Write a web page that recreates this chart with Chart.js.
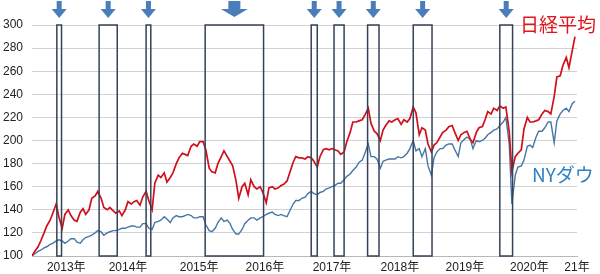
<!DOCTYPE html>
<html lang="ja">
<head>
<meta charset="utf-8">
<title>日経平均とNYダウ</title>
<script src="https://cdn.jsdelivr.net/npm/chart.js@4.4.0/dist/chart.umd.min.js"></script>
<style>
  html, body { margin: 0; padding: 0; background: #fff; }
  canvas { display: block; }
</style>
</head>
<body>
<canvas id="chart" width="600" height="274"></canvas>
<script>
// Dates as decimal years (start of 2013 = 100 for both indices)
const dates = [
  2013.00, 2013.04, 2013.09, 2013.13, 2013.18, 2013.22, 2013.27, 2013.31, 2013.36, 2013.40,
  2013.45, 2013.49, 2013.54, 2013.58, 2013.63, 2013.67, 2013.72, 2013.76, 2013.80, 2013.85,
  2013.89, 2013.94, 2013.98, 2014.03, 2014.07, 2014.12, 2014.16, 2014.21, 2014.25, 2014.30,
  2014.34, 2014.39, 2014.43, 2014.48, 2014.52, 2014.56, 2014.61, 2014.65, 2014.70, 2014.74,
  2014.79, 2014.83, 2014.88, 2014.92, 2014.97, 2015.01, 2015.06, 2015.10, 2015.15, 2015.19,
  2015.24, 2015.28, 2015.32, 2015.37, 2015.41, 2015.46, 2015.50, 2015.55, 2015.59, 2015.64,
  2015.68, 2015.73, 2015.77, 2015.82, 2015.86, 2015.91, 2015.95, 2015.99, 2016.04, 2016.08,
  2016.13, 2016.17, 2016.22, 2016.26, 2016.31, 2016.35, 2016.40, 2016.44, 2016.49, 2016.53,
  2016.58, 2016.62, 2016.67, 2016.71, 2016.75, 2016.80, 2016.84, 2016.89, 2016.93, 2016.98,
  2017.02, 2017.07, 2017.11, 2017.16, 2017.20, 2017.25, 2017.29, 2017.34, 2017.38, 2017.43,
  2017.47, 2017.51, 2017.56, 2017.60, 2017.65, 2017.69, 2017.74, 2017.78, 2017.83, 2017.87,
  2017.92, 2017.96, 2018.01, 2018.05, 2018.10, 2018.14, 2018.19, 2018.23, 2018.27, 2018.32,
  2018.36, 2018.41, 2018.45, 2018.50, 2018.54, 2018.59, 2018.63, 2018.68, 2018.72, 2018.77,
  2018.81, 2018.86, 2018.90, 2018.95, 2018.99, 2019.03, 2019.08, 2019.12, 2019.17, 2019.21,
  2019.26, 2019.30, 2019.35, 2019.39, 2019.44, 2019.48, 2019.53, 2019.57, 2019.62, 2019.66,
  2019.71, 2019.75, 2019.79, 2019.84, 2019.88, 2019.93, 2019.97, 2020.02, 2020.06, 2020.11,
  2020.15, 2020.20, 2020.24, 2020.29, 2020.33, 2020.38, 2020.42, 2020.46, 2020.51, 2020.55,
  2020.60, 2020.64, 2020.69, 2020.73, 2020.78, 2020.82, 2020.87, 2020.91, 2020.96, 2021.00,
  2021.05, 2021.09
];

const nikkei = [
  100, 104, 108, 113, 120, 126, 131, 137, 145, 134,
  124, 136, 140, 135, 131, 130, 138, 141, 136, 140,
  150, 152, 156, 150, 142, 140, 142, 139, 137, 139,
  135, 140, 147, 145, 147, 148, 144, 151, 156, 148,
  140, 163, 170, 168, 172, 164, 168, 172, 180, 185,
  189, 188, 187, 195, 197, 195, 199, 199, 192, 176,
  173, 172, 180, 186, 191, 186, 182, 178, 165, 150,
  160, 163, 153, 166, 160, 158, 160, 155, 146, 159,
  160, 158, 159, 161, 162, 165, 172, 181, 186, 185,
  185, 184, 186, 185, 182, 177, 186, 192, 193, 192,
  193, 192, 191, 188, 190, 199, 207, 216, 216, 217,
  218, 222, 228, 215, 208, 206, 200, 209, 213, 217,
  216, 218, 219, 214, 218, 216, 219, 229, 224, 205,
  211, 209, 197, 190, 196, 198, 203, 207, 209, 212,
  213, 207, 200, 205, 207, 208, 201, 198, 207, 211,
  212, 218, 225, 223, 228, 226, 230, 228, 229, 208,
  173, 186, 189, 192, 210, 220, 216, 216, 217, 218,
  223, 226, 225, 223, 238, 255, 256, 265, 272, 263,
  278, 290
];

const nyDow = [
  100, 102, 104, 105, 107, 108, 110, 111, 113, 114,
  113, 111, 113, 115, 115, 112, 111, 114, 116, 117,
  118, 120, 122, 121, 118, 120, 121, 122, 122, 123,
  124, 124, 125, 126, 126, 125, 125, 128, 128, 124,
  123, 129, 130, 131, 134, 132, 129, 133, 135, 134,
  134, 135, 136, 135, 133, 133, 134, 134, 127, 122,
  121, 124, 129, 133, 130, 131, 128, 123, 119, 119,
  123, 128, 131, 133, 133, 131, 133, 134, 136, 137,
  138, 136, 135, 136, 135, 134, 139, 145, 148, 148,
  150, 151, 154, 156, 154, 153, 155, 156, 158, 159,
  160, 161, 163, 163, 166, 169, 171, 174, 177, 181,
  183, 189, 197, 186, 186, 184, 176, 182, 183, 184,
  184, 184, 186, 185, 186, 189, 193, 200, 191, 193,
  186, 193, 178, 170, 185, 190, 193, 193, 196, 197,
  197, 192, 186, 198, 201, 203, 201, 193, 200, 199,
  200, 202, 205, 207, 209, 210, 213, 216, 220, 197,
  145, 170, 177, 178, 183, 195, 196, 194, 203, 208,
  208, 211, 216, 216, 198, 217, 223, 226, 228, 225,
  232, 234
];

// Year labels along the bottom (hand placed in the original, roughly mid-year)
const tickYears = [2013.51, 2014.43, 2015.49, 2016.47, 2017.47, 2018.48, 2019.45, 2020.41, 2021.12];
const tickLabels = ['2013年', '2014年', '2015年', '2016年', '2017年', '2018年', '2019年', '2020年', '21年'];

// Highlighted periods (boxes with arrows)
const eventStart = [2013.37, 2014.00, 2014.70, 2015.58, 2017.16, 2017.50, 2018.00, 2018.68, 2019.97];
const eventEnd   = [2013.44, 2014.27, 2014.77, 2016.45, 2017.25, 2017.65, 2018.17, 2018.96, 2020.16];

const xMin = 2013.0;
const xMax = 2021.12;

const FONT = "'Liberation Sans', 'Noto Sans CJK JP', sans-serif";
const JP_FONT = "'Noto Sans CJK JP', sans-serif";

// Boxes + arrows drawn on top of the lines
const eventPlugin = {
    id: 'events',
    afterDatasetsDraw(chart) {
        const ctx = chart.ctx;
        const xs = chart.scales.x;
        const area = chart.chartArea;
        ctx.save();
        eventStart.forEach((s, i) => {
            const x1 = xs.getPixelForValue(s);
            const x2 = xs.getPixelForValue(eventEnd[i]);
            ctx.strokeStyle = '#34425a';
            ctx.lineWidth = 1.5;
            ctx.strokeRect(x1, area.top, x2 - x1, area.bottom - area.top);

            // arrow above the box
            const cx = (x1 + x2) / 2;
            const big = (x2 - x1) > 40;
            const shaftW = big ? 12 : 5;
            const headW = big ? 27 : 15;
            const top = 1;
            const headY = 9;
            const tip = big ? 17 : 18;
            ctx.fillStyle = '#4a7ebb';
            ctx.beginPath();
            ctx.moveTo(cx - shaftW / 2, top);
            ctx.lineTo(cx + shaftW / 2, top);
            ctx.lineTo(cx + shaftW / 2, headY);
            ctx.lineTo(cx + headW / 2, headY);
            ctx.lineTo(cx, tip);
            ctx.lineTo(cx - headW / 2, headY);
            ctx.lineTo(cx - shaftW / 2, headY);
            ctx.closePath();
            ctx.fill();
        });
        ctx.restore();
    },
    afterDraw(chart) {
        const ctx = chart.ctx;
        ctx.save();
        ctx.font = '19px ' + JP_FONT;
        ctx.textBaseline = 'alphabetic';
        ctx.fillStyle = '#e0161c';
        ctx.fillText('日経平均', 520, 32);
        ctx.fillStyle = '#2f82c4';
        ctx.fillText('NYダウ', 532, 182);
        ctx.restore();
    }
};

new Chart(document.getElementById('chart').getContext('2d'), {
    type: 'line',
    data: {
        datasets: [
            {
                label: '日経平均',
                data: dates.map((d, i) => ({ x: d, y: nikkei[i] })),
                borderColor: '#d0101a',
                borderWidth: 1.7,
                pointRadius: 0,
                tension: 0
            },
            {
                label: 'NYダウ',
                data: dates.map((d, i) => ({ x: d, y: nyDow[i] })),
                borderColor: '#4676a6',
                borderWidth: 1.4,
                pointRadius: 0,
                tension: 0
            }
        ]
    },
    options: {
        responsive: false,
        animation: false,
        devicePixelRatio: 1,
        layout: { padding: { left: 0, right: 23, top: 25, bottom: 0 } },
        plugins: {
            legend: { display: false },
            tooltip: { enabled: false }
        },
        scales: {
            x: {
                type: 'linear',
                min: xMin,
                max: xMax,
                afterFit: (scale) => { scale.height = 18; },
                afterBuildTicks: (scale) => {
                    scale.ticks = tickYears.map(v => ({ value: v }));
                },
                grid: { display: false, drawTicks: false },
                border: { display: true, color: '#b8b8b8', width: 1 },
                ticks: {
                    autoSkip: false,
                    maxRotation: 0,
                    minRotation: 0,
                    padding: 4,
                    color: '#222',
                    font: { family: FONT, size: 12 },
                    callback: (value, index) => tickLabels[index]
                }
            },
            y: {
                min: 100,
                max: 300,
                afterFit: (scale) => { scale.width = 32; },
                grid: { color: '#d2d2d2', lineWidth: 1, drawTicks: false },
                border: { display: false },
                ticks: {
                    stepSize: 20,
                    padding: 9,
                    color: '#222',
                    font: { family: FONT, size: 12 }
                }
            }
        }
    },
    plugins: [eventPlugin]
});
</script>
</body>
</html>
